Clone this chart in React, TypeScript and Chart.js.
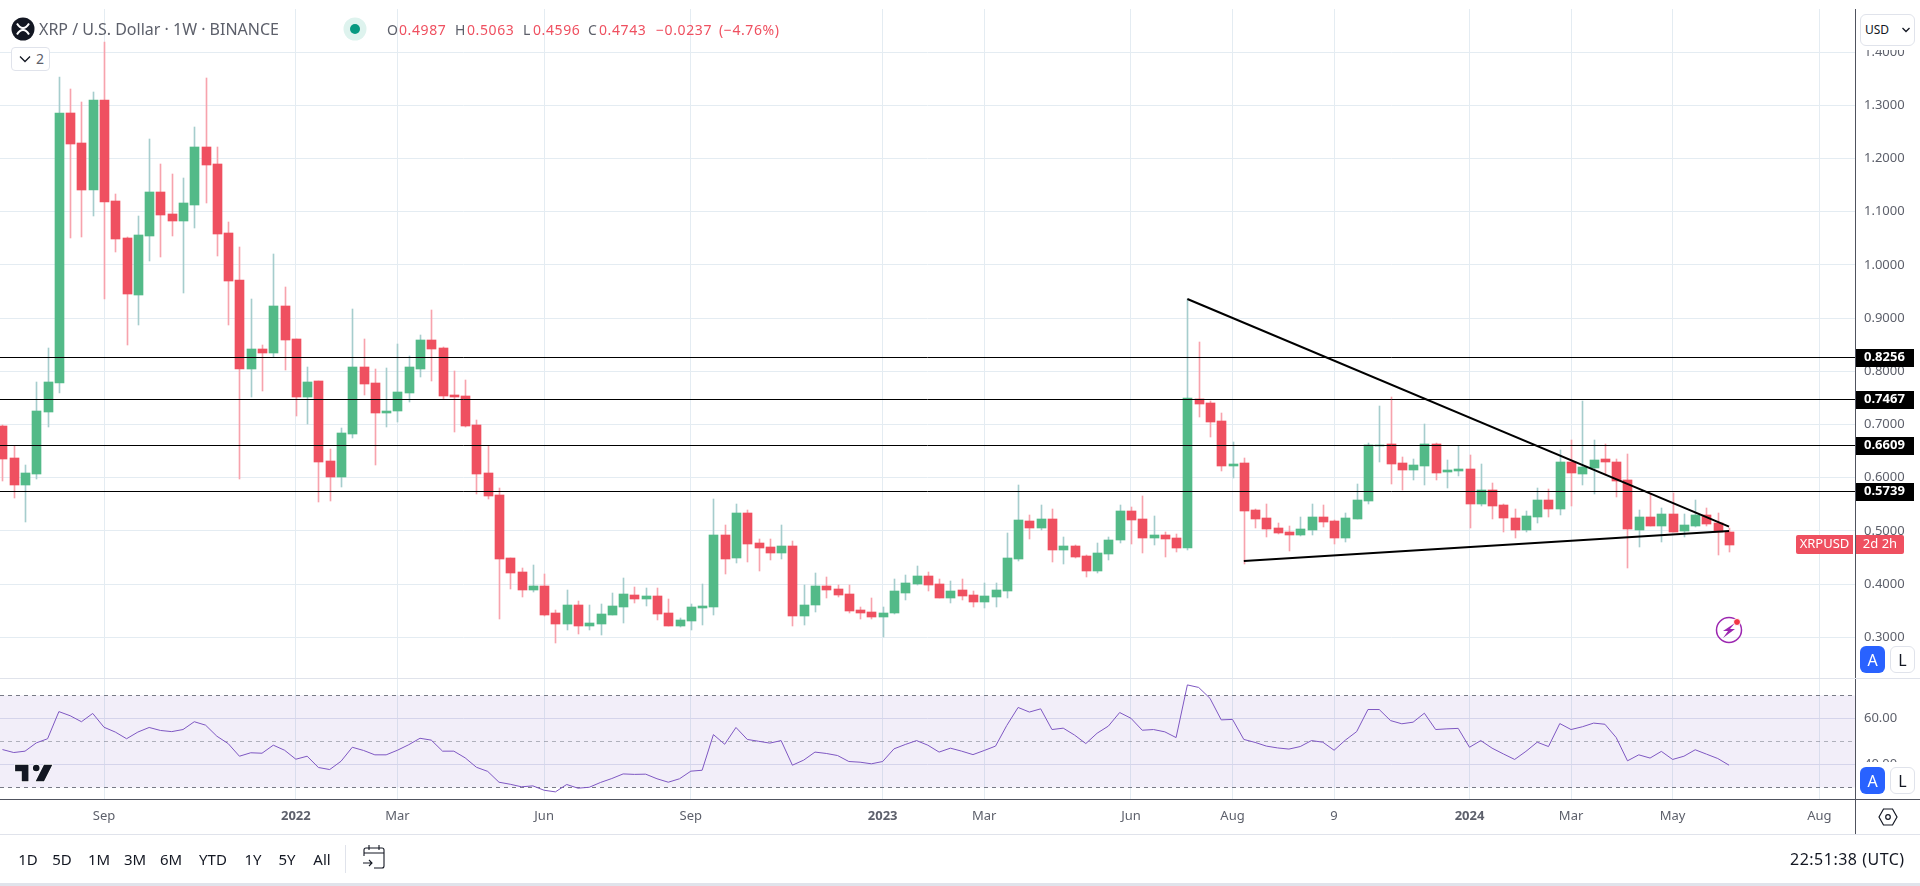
import React, { useEffect, useRef } from "react";
import { Chart, registerables } from "chart.js";

Chart.register(...registerables);

const opens = [0.6971,0.6370,0.5869,0.6075,0.7241,0.7786,1.2855,1.2291,1.1407,1.3099,1.1201,1.0505,0.9434,1.0543,1.1370,1.0956,1.0825,1.1126,1.2216,1.1896,1.0599,0.9716,0.8043,0.8419,0.8344,0.9227,0.8607,0.7517,0.7817,0.6313,0.6013,0.6821,0.8080,0.7780,0.7216,0.7254,0.7592,0.8043,0.8588,0.8438,0.7554,0.7536,0.6990,0.6088,0.5675,0.4490,0.4227,0.3889,0.3964,0.3457,0.3250,0.3607,0.3212,0.3250,0.3419,0.3569,0.3795,0.3720,0.3776,0.3457,0.3212,0.3306,0.3550,0.3569,0.4923,0.4490,0.5336,0.4772,0.4698,0.4585,0.4717,0.3401,0.3608,0.3965,0.3908,0.3814,0.3514,0.3476,0.3382,0.3457,0.3833,0.4002,0.4153,0.4002,0.3739,0.3889,0.3795,0.3664,0.3758,0.3871,0.4472,0.5186,0.5055,0.5224,0.4641,0.4717,0.4529,0.4247,0.4566,0.4829,0.5374,0.5224,0.4867,0.4923,0.4867,0.4678,0.7479,0.7404,0.7066,0.6220,0.6276,0.5393,0.5242,0.5054,0.4979,0.4923,0.5017,0.5261,0.5186,0.4866,0.5223,0.5562,0.6596,0.6633,0.6276,0.6145,0.6220,0.6633,0.6107,0.6126,0.6163,0.5505,0.5769,0.5486,0.5242,0.5017,0.5261,0.5581,0.5411,0.6295,0.6070,0.6183,0.6352,0.6296,0.5957,0.5017,0.5262,0.5092,0.5318,0.4998,0.5092,0.5299,0.5149,0.4987];
const highs = [0.6984,0.6602,0.6238,0.7798,0.8438,1.3532,1.3306,1.3062,1.3250,1.4183,1.1332,1.0524,1.0919,1.2366,1.1896,1.1708,1.1633,1.2592,1.3513,1.2216,1.0806,1.0336,0.9359,0.8494,1.0204,0.9584,0.8607,0.8087,0.7817,0.6539,0.6934,0.9171,0.8607,0.8043,0.8062,0.8513,0.8287,0.8682,0.9152,0.8457,0.8005,0.7836,0.7084,0.6596,0.5806,0.4490,0.4303,0.4359,0.4190,0.3513,0.3889,0.3682,0.3607,0.3626,0.3832,0.4114,0.3945,0.3927,0.3927,0.3720,0.3363,0.3626,0.4002,0.5599,0.5111,0.5505,0.5393,0.4848,0.4848,0.5111,0.4810,0.3983,0.4209,0.4134,0.3983,0.3983,0.3570,0.3739,0.3570,0.4096,0.4171,0.4341,0.4228,0.4096,0.4059,0.4096,0.3871,0.4021,0.4021,0.4961,0.5863,0.5299,0.5487,0.5412,0.4886,0.4735,0.4547,0.4773,0.4886,0.5487,0.5450,0.5656,0.5280,0.4980,0.4942,0.9359,0.8551,0.7442,0.7216,0.6671,0.6370,0.5411,0.5505,0.5148,0.5092,0.5261,0.5505,0.5487,0.5205,0.5336,0.5881,0.6652,0.7348,0.7517,0.6389,0.6351,0.7009,0.6652,0.6333,0.6596,0.6427,0.6257,0.5900,0.5505,0.5411,0.5374,0.5806,0.5787,0.6520,0.6708,0.7450,0.6709,0.6634,0.6352,0.6446,0.5393,0.5694,0.5431,0.5713,0.5318,0.5581,0.5431,0.5337,0.5063];
const lows = [0.5944,0.5624,0.5173,0.5981,0.6959,0.7598,1.0511,1.0530,1.0925,0.9365,1.0248,0.8500,0.8876,1.0079,1.0154,1.0549,0.9478,1.0699,1.1169,1.0173,0.8876,0.5981,0.7523,0.7635,0.8275,0.8030,0.7166,0.7015,0.5549,0.5568,0.5831,0.6752,0.7560,0.6245,0.6953,0.7047,0.7423,0.7893,0.7817,0.7479,0.6859,0.6953,0.5693,0.5599,0.3344,0.3908,0.3757,0.3851,0.3400,0.2893,0.3137,0.3062,0.3137,0.3043,0.3419,0.3269,0.3644,0.3588,0.3325,0.3212,0.3194,0.3137,0.3231,0.3419,0.4190,0.4396,0.4415,0.4246,0.4453,0.4472,0.3213,0.3232,0.3476,0.3739,0.3758,0.3457,0.3344,0.3344,0.3006,0.3438,0.3701,0.3983,0.3871,0.3739,0.3645,0.3701,0.3570,0.3551,0.3570,0.3739,0.4435,0.4848,0.5017,0.4416,0.4378,0.4491,0.4134,0.4209,0.4453,0.4773,0.4754,0.4585,0.4735,0.4510,0.4604,0.4641,0.7141,0.6765,0.6126,0.5994,0.4378,0.5054,0.4885,0.4941,0.4622,0.4904,0.4923,0.5073,0.4754,0.4791,0.5223,0.5505,0.6295,0.5881,0.5769,0.5957,0.5863,0.5957,0.5806,0.6032,0.5054,0.5468,0.5223,0.4979,0.4866,0.4979,0.5148,0.5261,0.5299,0.5468,0.5863,0.5694,0.6051,0.5638,0.4303,0.4698,0.5092,0.4792,0.4980,0.4886,0.5074,0.5092,0.4547,0.4596];
const closes = [0.6357,0.5869,0.6088,0.7253,0.7798,1.2855,1.2272,1.1407,1.3099,1.1182,1.0486,0.9453,1.0562,1.1370,1.0938,1.0825,1.1163,1.2216,1.1877,1.0580,0.9697,0.8043,0.8419,0.8344,0.9227,0.8588,0.7517,0.7798,0.6295,0.6013,0.6840,0.8080,0.7761,0.7216,0.7254,0.7611,0.8081,0.8588,0.8419,0.7536,0.7517,0.6972,0.6069,0.5656,0.4472,0.4208,0.3889,0.3964,0.3419,0.3250,0.3607,0.3212,0.3269,0.3438,0.3588,0.3814,0.3720,0.3776,0.3438,0.3212,0.3325,0.3569,0.3588,0.4923,0.4472,0.5336,0.4754,0.4678,0.4585,0.4717,0.3401,0.3608,0.3965,0.3889,0.3795,0.3495,0.3457,0.3382,0.3457,0.3871,0.4021,0.4153,0.3983,0.3739,0.3871,0.3777,0.3664,0.3777,0.3889,0.4491,0.5205,0.5055,0.5224,0.4641,0.4717,0.4510,0.4247,0.4585,0.4829,0.5374,0.5205,0.4867,0.4923,0.4848,0.4679,0.7498,0.7385,0.7047,0.6220,0.6257,0.5374,0.5223,0.5035,0.4960,0.4923,0.5035,0.5261,0.5167,0.4866,0.5242,0.5581,0.6614,0.6614,0.6257,0.6145,0.6239,0.6633,0.6088,0.6145,0.6163,0.5505,0.5769,0.5468,0.5242,0.5017,0.5280,0.5581,0.5411,0.6295,0.6088,0.6201,0.6333,0.6296,0.5938,0.5036,0.5262,0.5092,0.5318,0.4980,0.5111,0.5299,0.5130,0.4987,0.4743];
const rsiValues = [46.5,45.2,45.8,49.4,51.2,63.0,61.2,58.6,62.2,56.2,54.1,51.2,54.1,56.1,54.8,54.3,55.2,58.6,57.1,52.3,49.1,43.6,45.1,44.9,48.4,46.2,42.3,43.6,38.7,37.8,41.4,47.5,46.1,44.2,44.2,46.2,48.6,51.4,50.6,45.8,45.8,42.9,38.8,37.0,32.3,31.4,30.3,30.7,28.8,28.1,31.3,29.7,30.1,32.2,33.9,35.9,35.7,35.8,33.8,32.3,33.8,37.1,37.5,53.0,48.8,56.1,50.9,50.1,49.3,50.4,39.7,41.9,45.4,44.8,43.9,41.3,41.0,40.3,41.3,46.8,48.7,50.4,48.4,45.4,47.1,45.8,44.3,46.1,48.0,57.0,64.8,62.8,64.2,55.2,55.8,52.8,49.1,53.6,56.7,62.6,60.1,54.9,55.2,54.2,51.7,74.6,73.5,68.8,59.4,59.6,50.9,49.6,48.0,47.2,46.7,47.8,50.4,49.7,46.2,50.6,54.3,63.9,63.9,59.1,57.7,58.4,62.3,55.2,55.5,55.7,47.5,50.4,47.1,44.6,42.2,45.7,49.7,47.8,57.8,55.2,56.4,58.0,57.5,51.7,41.6,44.2,42.8,45.7,42.2,43.6,46.4,44.5,42.6,39.7];

const priceTicks = [1.4, 1.3, 1.2, 1.1, 1.0, 0.9, 0.8, 0.7, 0.6, 0.5, 0.4, 0.3];
const rsiTicks = [60, 40];
const timeTickIndex = [9, 26, 35, 48, 61, 78, 87, 100, 109, 118, 130, 139, 148, 161];
const timeTickLabels = ["Sep", "2022", "Mar", "Jun", "Sep", "2023", "Mar", "Jun", "Aug", "9", "2024", "Mar", "May", "Aug"];
const levels = [0.8256, 0.7467, 0.6609, 0.5739];
const upperTrend = [{ x: 105, y: 0.9359 }, { x: 153, y: 0.5079 }];
const lowerTrend = [{ x: 110, y: 0.4434 }, { x: 153, y: 0.4998 }];
const lastClose = 0.4743;
const rangeButtons = ["1D", "5D", "1M", "3M", "6M", "YTD", "1Y", "5Y", "All"];
const rangeCentres = [28, 62, 99, 135, 171, 213, 253, 287, 322];

const FONT = '"Noto Sans", sans-serif';
const RED = "#ef5060";
const GREEN = "#53ba88";
const RED_WICK = "#f7a3ad";
const GREEN_WICK = "#a6cdcd";
const GRID = "#e4ecf2";
const X_MIN = -0.2171;
const X_MAX = 164.16;

const isUp = (i: number) => closes[i] >= opens[i];

const snapPlugin = {
  id: "snap",
  afterDatasetsUpdate(chart: any) {
    chart.data.datasets.forEach((ds: any, idx: number) => {
      const meta = chart.getDatasetMeta(idx);
      if (ds.type === "bar") {
        meta.data.forEach((el: any) => {
          el.x = Math.round(el.x) + 0.5;
          el.y = Math.round(el.y);
          el.base = Math.round(el.base);
          if (el.base - el.y < 1) el.base = el.y + 1;
          el.height = el.base - el.y;
        });
      } else if (ds.snapY) {
        meta.data.forEach((el: any) => {
          el.y = Math.floor(el.y) + 0.5;
        });
      }
    });
  },
};

const tagPlugin = {
  id: "tags",
  afterDraw(chart: any) {
    const { ctx } = chart;
    const y = chart.scales.y;
    ctx.save();
    ctx.textBaseline = "middle";
    levels.forEach((v) => {
      const py = Math.floor(y.getPixelForValue(v)) + 0.5;
      ctx.fillStyle = "#000000";
      ctx.fillRect(1856, Math.round(py - 9), 58, 18);
      ctx.fillStyle = "#ffffff";
      ctx.font = `bold 13px ${FONT}`;
      ctx.textAlign = "left";
      ctx.fillText(v.toFixed(4), 1864, py);
    });
    const py = y.getPixelForValue(lastClose);
    const top = Math.round(py - 9.5);
    ctx.fillStyle = RED;
    ctx.beginPath();
    ctx.roundRect(1796, top, 57, 19, [2, 0, 0, 2]);
    ctx.fill();
    ctx.beginPath();
    ctx.roundRect(1856, top, 48, 19, [0, 2, 2, 0]);
    ctx.fill();
    ctx.fillStyle = "#ffffff";
    ctx.font = `13px ${FONT}`;
    ctx.textAlign = "center";
    ctx.fillText("XRPUSD", 1824.5, py);
    ctx.fillText("2d 2h", 1880, py);
    ctx.restore();
  },
};

function Box(p: { x: number; y: number; w: number; h: number; bg?: string; style?: React.CSSProperties; children?: React.ReactNode }) {
  return (
    <div style={{ position: "absolute", left: p.x, top: p.y, width: p.w, height: p.h, background: p.bg, ...p.style }}>
      {p.children}
    </div>
  );
}

function Label(p: { x: number; y: number; text: string; size?: number; color?: string; weight?: number; center?: boolean; spacing?: number }) {
  return (
    <div
      style={{
        position: "absolute",
        left: p.x,
        top: p.y,
        transform: p.center ? "translate(-50%,-50%)" : "translateY(-50%)",
        fontFamily: FONT,
        fontSize: p.size ?? 13,
        color: p.color ?? "#131722",
        fontWeight: p.weight ?? 400,
        letterSpacing: p.spacing ?? 0,
        whiteSpace: "nowrap",
        lineHeight: 1,
      }}
    >
      {p.text}
    </div>
  );
}

function ScaleButtons({ y }: { y: number }) {
  return (
    <>
      <Box x={1860} y={y} w={25} h={27} bg="#2962ff" style={{ borderRadius: 6 }} />
      <Label x={1872.5} y={y + 13.5} text="A" size={16} color="#ffffff" center />
      <Box x={1890} y={y} w={25} h={27} bg="#ffffff" style={{ borderRadius: 6, border: "1px solid #e0e3eb", boxSizing: "border-box" }} />
      <Label x={1902.5} y={y + 13.5} text="L" size={16} center />
    </>
  );
}

export default function App() {
  const ref = useRef<HTMLCanvasElement | null>(null);

  useEffect(() => {
    if (!ref.current) return;
    const idx = opens.map((_, i) => i);
    const fitPane = (s: any) => {
      s.width = 65;
      s.paddingTop = 0;
      s.paddingBottom = 0;
    };
    const chart = new Chart(ref.current, {
      type: "bar",
      data: {
        datasets: [
          {
            type: "line",
            yAxisID: "rsi",
            data: [{ x: X_MIN, y: 70 }, { x: X_MAX, y: 70 }],
            borderColor: "rgba(0,0,0,0)",
            borderWidth: 0,
            pointRadius: 0,
            fill: { target: { value: 30 } },
            backgroundColor: "rgba(126,87,194,0.1)",
            order: 100,
          },
          ...[
            { v: 70, c: "#787b86" },
            { v: 50, c: "rgba(120,123,134,0.55)" },
            { v: 30, c: "#787b86" },
          ].map((l) => ({
            type: "line",
            yAxisID: "rsi",
            snapY: true,
            data: [{ x: X_MIN, y: l.v }, { x: X_MAX, y: l.v }],
            borderColor: l.c,
            borderWidth: 1,
            borderDash: [4, 4],
            pointRadius: 0,
            order: 90,
          })),
          {
            type: "bar",
            yAxisID: "y",
            grouped: false,
            barThickness: 1,
            data: idx.map((i) => ({ x: i, y: [lows[i], highs[i]] })),
            backgroundColor: idx.map((i) => (isUp(i) ? GREEN_WICK : RED_WICK)),
            borderWidth: 0,
            order: 50,
          },
          {
            type: "bar",
            yAxisID: "y",
            grouped: false,
            barThickness: 9,
            data: idx.map((i) => ({ x: i, y: [Math.min(opens[i], closes[i]), Math.max(opens[i], closes[i])] })),
            backgroundColor: idx.map((i) => (isUp(i) ? GREEN : RED)),
            borderWidth: 0,
            order: 40,
          },
          {
            type: "line",
            yAxisID: "rsi",
            data: idx.map((i) => ({ x: i, y: rsiValues[i] })),
            borderColor: "#7e57c2",
            borderWidth: 1,
            pointRadius: 0,
            tension: 0,
            order: 30,
          },
          ...levels.map((v) => ({
            type: "line",
            yAxisID: "y",
            snapY: true,
            data: [{ x: X_MIN, y: v }, { x: X_MAX, y: v }],
            borderColor: "#000000",
            borderWidth: 1,
            pointRadius: 0,
            order: 20,
          })),
          ...[upperTrend, lowerTrend].map((t) => ({
            type: "line",
            yAxisID: "y",
            data: t,
            borderColor: "#000000",
            borderWidth: 2,
            pointRadius: 0,
            order: 10,
          })),
        ] as any,
      },
      options: {
        animation: false,
        responsive: false,
        devicePixelRatio: 1,
        layout: { padding: { top: 9, bottom: 52, left: 0, right: 0 } },
        plugins: { legend: { display: false }, tooltip: { enabled: false } },
        scales: {
          x: {
            type: "linear",
            min: X_MIN,
            max: X_MAX,
            offset: false,
            afterBuildTicks: (s: any) => {
              s.ticks = timeTickIndex.map((v) => ({ value: v }));
            },
            afterFit: (s: any) => {
              s.height = 35;
              s.paddingLeft = 0;
              s.paddingRight = 0;
            },
            grid: { color: GRID, offset: false, drawTicks: false },
            border: { color: "#50535e" },
            ticks: {
              autoSkip: false,
              maxRotation: 0,
              padding: 9,
              color: "#5d606b",
              font: (c: any) => ({
                family: FONT,
                size: 13,
                weight: /^\d{4}$/.test(timeTickLabels[c.index] || "") ? "bold" : "normal",
              }),
              callback: (_v: any, i: number) => timeTickLabels[i],
            },
          },
          y: {
            type: "linear",
            position: "right",
            stack: "panes",
            stackWeight: 669,
            min: 0.2235,
            max: 1.48102,
            afterBuildTicks: (s: any) => {
              s.ticks = priceTicks.map((v) => ({ value: v }));
            },
            afterFit: fitPane,
            grid: { color: GRID, drawTicks: false },
            border: { color: "#50535e" },
            ticks: {
              padding: 9,
              color: "#5d606b",
              font: { family: FONT, size: 13 },
              callback: (v: any) => Number(v).toFixed(4),
            },
          },
          rsi: {
            type: "linear",
            position: "right",
            stack: "panes",
            stackWeight: 121,
            min: 25,
            max: 77.609,
            afterBuildTicks: (s: any) => {
              s.ticks = rsiTicks.map((v) => ({ value: v }));
            },
            afterFit: fitPane,
            grid: { color: "#dfe3f0", drawTicks: false },
            border: { color: "#50535e" },
            ticks: {
              padding: 9,
              color: "#5d606b",
              font: { family: FONT, size: 13 },
              callback: (v: any) => Number(v).toFixed(2),
            },
          },
        },
      } as any,
      plugins: [snapPlugin, tagPlugin],
    });
    return () => chart.destroy();
  }, []);

  const red = "#ef5060";
  const grey = "#5d606b";
  return (
    <div style={{ position: "fixed", left: 0, top: 0, width: 1920, height: 886, background: "#ffffff", overflow: "hidden" }}>
      <canvas ref={ref} width={1920} height={886} style={{ position: "absolute", left: 0, top: 0, display: "block" }} />

      {/* pane separators and frame */}
      <Box x={0} y={678} w={1920} h={1} bg="#e0e3eb" />
      <Box x={1855} y={799} w={65} h={1} bg="#50535e" />
      <Box x={1855} y={800} w={1} h={34} bg="#50535e" />
      <Box x={0} y={834} w={1920} h={1} bg="#e0e3eb" />
      <Box x={0} y={883} w={1920} h={3} bg="#e0e3eb" />

      {/* legend */}
      <svg width={24} height={24} style={{ position: "absolute", left: 11, top: 17 }} viewBox="0 0 24 24">
        <circle cx={12} cy={12} r={11.5} fill="#131722" />
        <path d="M6 6.5c3.5 6 8.5 6 12 0M6 17.5c3.5-6 8.5-6 12 0" stroke="#ffffff" strokeWidth={2} fill="none" />
      </svg>
      <Label x={39} y={29} text="XRP / U.S. Dollar · 1W · BINANCE" size={16} color={grey} />
      <svg width={24} height={24} style={{ position: "absolute", left: 343, top: 17 }} viewBox="0 0 24 24">
        <circle cx={12} cy={12} r={11.5} fill="#def3ee" />
        <circle cx={12} cy={12} r={5} fill="#089981" />
      </svg>
      {[
        [387, "O", grey], [399, "0.4987", red],
        [455, "H", grey], [467, "0.5063", red],
        [523, "L", grey], [533, "0.4596", red],
        [588, "C", grey], [599, "0.4743", red],
        [656, "−0.0237", red], [719, "(−4.76%)", red],
      ].map(([x, t, c]) => (
        <Label key={String(x)} x={x as number} y={30} text={t as string} size={14} spacing={0.6} color={c as string} />
      ))}
      <Box x={11} y={47} w={39} h={24} bg="#ffffff" style={{ border: "1px solid #e0e3eb", borderRadius: 4, boxSizing: "border-box" }} />
      <svg width={12} height={8} style={{ position: "absolute", left: 19, top: 55 }} viewBox="0 0 12 8">
        <path d="M1 1.5l5 5 5-5" stroke="#131722" strokeWidth={1.3} fill="none" />
      </svg>
      <Label x={36} y={59} text="2" size={14} color={grey} />

      {/* price scale furniture */}
      <Box x={1856} y={9} w={64} h={41} bg="#ffffff" />
      <Box x={1860} y={14} w={55} h={32} bg="#ffffff" style={{ border: "1px solid #e0e3eb", borderRadius: 6, boxSizing: "border-box" }} />
      <Label x={1865} y={30} text="USD" size={12} />
      <svg width={10} height={6} style={{ position: "absolute", left: 1901, top: 27 }} viewBox="0 0 10 6">
        <path d="M1.5 1l3.5 3.5L8.5 1" stroke="#131722" strokeWidth={1.3} fill="none" />
      </svg>
      <Box x={1856} y={642} w={64} h={36} bg="#ffffff" />
      <Box x={1856} y={762} w={64} h={37} bg="#ffffff" />
      <ScaleButtons y={646} />
      <ScaleButtons y={767} />

      {/* watermark and icons */}
      <svg width={40} height={22} style={{ position: "absolute", left: 14, top: 762 }} viewBox="1 4 36 19">
        <path d="M14 6H2v6h6v9h6V6zm14 15h-7.5l7.5-15h7.5L28 21zm-7-9a3 3 0 1 0 0-6 3 3 0 0 0 0 6z" fill="#131722" stroke="#ffffff" strokeWidth={1} paintOrder="stroke" />
      </svg>
      <svg width={30} height={30} style={{ position: "absolute", left: 1714, top: 614 }} viewBox="0 0 30 30">
        <circle cx={15} cy={16} r={12.5} fill="none" stroke="#9c27b0" strokeWidth={1.5} />
        <path d="M21 9l-12 8h5l-5 7 12-9h-5z" fill="#9c27b0" />
        <circle cx={23} cy={8} r={3.5} fill="#f23645" stroke="#fff" />
      </svg>
      <svg width={20} height={18} style={{ position: "absolute", left: 1878, top: 808 }} viewBox="0 0 20 18">
        <path d="M1 9l4.5-8h9l4.5 8-4.5 8h-9z" fill="none" stroke="#131722" strokeWidth={1.2} />
        <circle cx={10} cy={9} r={2.3} fill="none" stroke="#131722" strokeWidth={1.2} />
      </svg>

      {/* bottom toolbar */}
      {rangeButtons.map((t, i) => (
        <Label key={t} x={rangeCentres[i]} y={859} text={t} size={15} center />
      ))}
      <Box x={345} y={845} w={1} h={28} bg="#e0e3eb" />
      <svg width={24} height={24} style={{ position: "absolute", left: 362, top: 845 }} viewBox="0 0 24 24">
        <path d="M2 11V5a2 2 0 0 1 2-2h16a2 2 0 0 1 2 2v16a2 2 0 0 1-2 2H12M2 8h20M7 0v5M17 0v5M1 18h9M7 15l3 3-3 3" stroke="#131722" strokeWidth={1.1} fill="none" />
      </svg>
      <Label x={1790} y={859} text="22:51:38 (UTC)" size={16} spacing={0.5} />
    </div>
  );
}
